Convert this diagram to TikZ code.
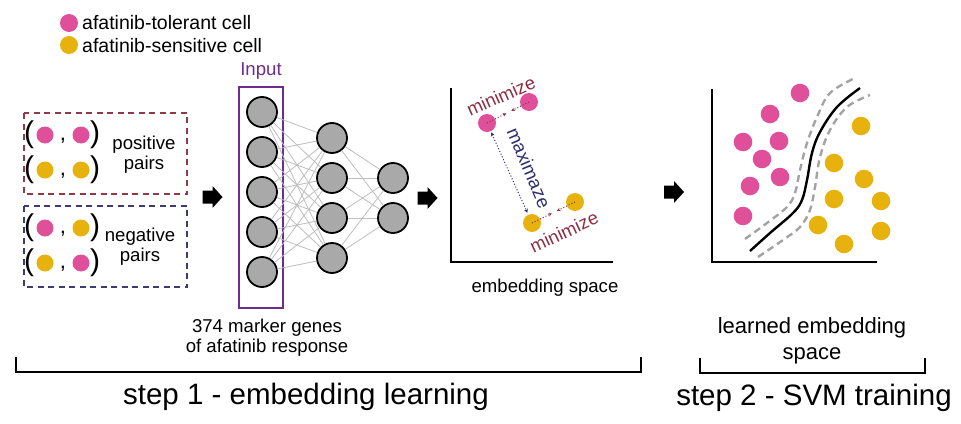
\documentclass[tikz,border=0pt]{standalone}
\usepackage{fontspec}
\setmainfont{Liberation Sans}
\usetikzlibrary{arrows.meta,calc}
\definecolor{pinkc}{HTML}{E0509A}
\definecolor{yelc}{HTML}{E8B20E}
\definecolor{nngray}{HTML}{A9A9A9}
\definecolor{lgray}{HTML}{BEBEBE}
\definecolor{purp}{HTML}{6E2C8E}
\definecolor{boxred}{HTML}{8E3B46}
\definecolor{boxblue}{HTML}{3C3C72}
\definecolor{minred}{HTML}{8E2E42}
\definecolor{maxblue}{HTML}{2E2E6E}
\definecolor{dashg}{HTML}{A3A3A3}
\newcommand\fsz[2]{\fontsize{#1}{#2}\selectfont}
\begin{document}
\begin{tikzpicture}[x=1pt,y=-1pt,
  pk/.style={circle,fill=pinkc,inner sep=0,minimum size=#1},
  pk/.default=18pt,
  yl/.style={circle,fill=yelc,inner sep=0,minimum size=#1},
  yl/.default=18pt,
  nn/.style={circle,fill=nngray,draw=black,line width=1.8pt,minimum size=30pt,inner sep=0},
  wire/.style={draw=lgray,line width=0.8pt},
  txt/.style={inner sep=0,font=\fsz{18.6}{20}},
  paren/.style={inner sep=0,font=\fsz{30}{30}},
  comma/.style={inner sep=0,font=\fsz{22}{22},anchor=base},
  minarr/.style={draw=minred,line width=1pt,dotted,-{Stealth[length=3.5pt,width=3.5pt]}},
  maxarr/.style={draw=maxblue,line width=1pt,dotted,{Stealth[length=4pt,width=4pt]}-{Stealth[length=4pt,width=4pt]}},
  axis/.style={draw=black,line width=2pt},
  blockarr/.pic={\fill[black] (-10,-6.5) -- (0,-6.5) -- (0,-11) -- (10,0) -- (0,11) -- (0,6.5) -- (-10,6.5) -- cycle;}
]
\useasboundingbox (0,0) rectangle (961,423);

% legend
\node[pk] (legp) at (69,23) {};
\node[yl] (legy) at (69,45) {};
\node[inner sep=0,anchor=base west,font=\fsz{19.5}{20}] (legpt) at (82,29) {afatinib-tolerant cell};
\node[inner sep=0,anchor=base west,font=\fsz{19.5}{20}] (legyt) at (82,52) {afatinib-sensitive cell};

% pair boxes
\draw[boxred,line width=1.6pt,dash pattern=on 6pt off 4.5pt] (24,113) rectangle (187,194);
\draw[boxblue,line width=1.6pt,dash pattern=on 6pt off 4.5pt] (24,206) rectangle (187,287);

% positive pairs
\node[paren] (lp1) at (29,135) {(};
\node[pk=17pt] (a1) at (45,135) {};
\node[comma] (c1) at (63,140) {,};
\node[pk=17pt] (b1) at (81,135) {};
\node[paren] (rp1) at (95,135) {)};
\node[paren] (lp2) at (29,170) {(};
\node[yl=17pt] (a2) at (45,170) {};
\node[comma] (c2) at (63,175) {,};
\node[yl=17pt] (b2) at (81,170) {};
\node[paren] (rp2) at (95,170) {)};
\node[txt,align=center] (postxt) at (144,155) {positive\\pairs};
% negative pairs
\node[paren] (lp3) at (29,228) {(};
\node[pk=17pt] (a3) at (45,228) {};
\node[comma] (c3) at (63,233) {,};
\node[yl=17pt] (b3) at (81,228) {};
\node[paren] (rp3) at (95,228) {)};
\node[paren] (lp4) at (29,263) {(};
\node[yl=17pt] (a4) at (45,263) {};
\node[comma] (c4) at (63,268) {,};
\node[pk=17pt] (b4) at (81,263) {};
\node[paren] (rp4) at (95,263) {)};
\node[txt,align=center] (negtxt) at (140,247) {negative\\pairs};

% block arrows
\pic at (212.5,197) {blockarr};
\pic at (427.5,198) {blockarr};
\pic at (674,192) {blockarr};

% neural network
\node[txt,text=purp] (inlbl) at (261,71) {Input};
\draw[purp,line width=2pt] (239,87) rectangle (283,308);
\foreach \k/\yy in {1/112,2/152,3/192,4/232,5/272} \node[nn] (i\k) at (262,\yy) {};
\foreach \k/\yy in {1/138,2/178,3/218,4/258} \node[nn] (h\k) at (332,\yy) {};
\foreach \k/\yy in {1/178,2/218} \node[nn] (o\k) at (393,\yy) {};
\foreach \a in {1,...,5} \foreach \b in {1,...,4} \draw[wire] (i\a) -- (h\b);
\foreach \a in {1,...,4} \foreach \b in {1,2} \draw[wire] (h\a) -- (o\b);
\node[txt,align=center] (genes) at (267,338) {374 marker genes\\of afatinib response};

% embedding space
\draw[axis] (451,88) -- (451,262) -- (613,262);
\node[pk] (p1) at (487,123) {};
\node[pk] (p2) at (529,102) {};
\node[yl] (y1) at (532,223) {};
\node[yl] (y2) at (575,202) {};
\draw[minarr] (p1.center) -- ($(p1)!0.46!(p2)$);
\draw[minarr] (p2.center) -- ($(p2)!0.42!(p1)$);
\draw[minarr] (y1.center) -- ($(y1)!0.46!(y2)$);
\draw[minarr] (y2.center) -- ($(y2)!0.42!(y1)$);
\draw[maxarr,shorten <=1pt,shorten >=2pt] (p1) -- (y1);
\node[inner sep=0,font=\fsz{18.5}{19},text=minred,rotate=24] (min1) at (501,96) {minimize};
\node[inner sep=0,font=\fsz{18.5}{19},text=minred,rotate=25] (min2) at (564,232) {minimize};
\node[inner sep=0,font=\fsz{18.6}{19},text=maxblue,rotate=-67] (maxl) at (529,168) {maximaze};
\node[txt] (embl) at (545,288) {embedding space};

% SVM
\draw[axis] (712,89) -- (712,262) -- (877,262);
\foreach \k/\xx/\yy in {1/800/93,2/770/114,3/743/142,4/779/141,5/762/159,6/780/177,7/750/186,8/743/216}
  \node[pk=18.6pt] (sp\k) at (\xx,\yy) {};
\foreach \k/\xx/\yy in {1/861/126,2/834/163,3/864/179,4/834/199,5/881/201,6/818/225,7/881/231,8/844/244}
  \node[yl=18.6pt] (sy\k) at (\xx,\yy) {};
\draw[dashg,line width=2.4pt,dash pattern=on 7pt off 4.5pt] plot[smooth,tension=0.6] coordinates {(745,239) (767,223) (787,207) (795,193) (800,170) (807,143) (817,117) (830,93) (855,78)};
\draw[dashg,line width=2.4pt,dash pattern=on 7pt off 4.5pt] plot[smooth,tension=0.6] coordinates {(758,257) (783,240) (800,227) (810,210) (815,187) (820,157) (830,130) (847,107) (870,95)};
\draw[black,line width=2.4pt] plot[smooth,tension=0.6] coordinates {(750,251) (770,233) (793,213) (802,200) (807,180) (812,153) (820,132) (837,107) (860,88)};
\node[inner sep=0,align=center,font=\fsz{22}{26}] (learned) at (812,341) {learned embedding\\space};

% brackets and step labels
\draw[line width=2pt] (16,357) -- (16,372) -- (641,372) -- (641,357);
\draw[line width=2pt] (700,358) -- (700,373) -- (925,373) -- (925,358);
\node[inner sep=0,font=\fsz{29.5}{30}] (step1) at (306,397) {step 1 - embedding learning};
\node[inner sep=0,font=\fsz{29.5}{30}] (step2) at (814,398) {step 2 - SVM training};
\end{tikzpicture}
\end{document}
